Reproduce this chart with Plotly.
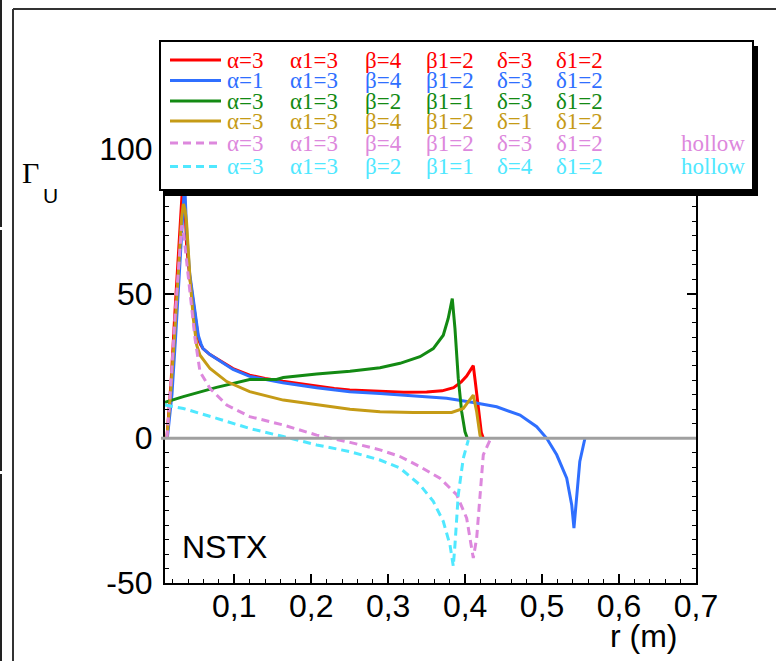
import plotly.graph_objects as go

# ---------------- data ----------------
red_x = [0.0125, 0.018, 0.023, 0.028, 0.033, 0.0345, 0.038, 0.042, 0.0468, 0.0505, 0.0533, 0.056, 0.0594,
         0.068, 0.0772, 0.0984, 0.12, 0.14, 0.163, 0.19, 0.207, 0.23, 0.25, 0.27, 0.29, 0.32, 0.35, 0.37,
         0.385, 0.395, 0.402, 0.407, 0.4106, 0.413, 0.417, 0.421, 0.4236]
red_y = [0, 20, 44, 68, 88, 90, 67, 56, 47, 40, 34.5, 32.5, 31,
         29, 27.6, 24.1, 21.8, 20.7, 19.7, 18.6, 17.9, 17.2, 16.7, 16.4, 16.2, 15.9, 16.0, 16.4,
         17.5, 19.5, 21.5, 23.5, 25.1, 20, 10, 2, 0]

blue_x = [0.013, 0.019, 0.024, 0.029, 0.0335, 0.0355, 0.0385, 0.042, 0.0468, 0.0505, 0.0533, 0.057, 0.0594,
          0.068, 0.0772, 0.0984, 0.12, 0.163, 0.207, 0.25, 0.2894, 0.3326, 0.376, 0.4106, 0.441, 0.4713,
          0.493, 0.506, 0.519, 0.532, 0.5385, 0.5414, 0.545, 0.549, 0.5557]
blue_y = [0, 15, 36, 60, 82, 88, 70, 57, 48, 41, 35.5, 32.5, 31,
          29, 27.4, 23.8, 21.4, 19.2, 17.5, 16.1, 15.5, 14.7, 13.8, 12.4, 10.9, 8.0,
          4.0, 0, -5.7, -13.8, -23, -31, -19.5, -8, 0]

green_x = [0.01, 0.0338, 0.077, 0.12, 0.155, 0.1637, 0.2071, 0.2504, 0.2894, 0.3154, 0.3413, 0.3586, 0.3716,
           0.378, 0.3833, 0.3868, 0.3911, 0.3955, 0.3998, 0.4028]
green_y = [12.4, 14.4, 17.6, 20.3, 20.3, 21.0, 22.2, 23.2, 24.4, 25.9, 28.2, 31, 35.6,
           41.4, 48.3, 37.9, 20.7, 9.2, 2.3, 0]

gold_x = [0.0125, 0.018, 0.023, 0.028, 0.0315, 0.0338, 0.036, 0.038, 0.0425, 0.0468, 0.0512, 0.0555, 0.0685,
          0.0902, 0.12, 0.1637, 0.2071, 0.2504, 0.2894, 0.3326, 0.3825, 0.3976, 0.4106, 0.415, 0.4193, 0.4206]
gold_y = [0, 18, 38, 62, 76, 81, 79, 74.7, 55.2, 41.4, 32.2, 28.7, 24.1,
          19.6, 16.1, 13.2, 11.5, 10, 9.2, 8.9, 8.9, 10.3, 14.9, 9.2, 1.1, 0]

pink_x = [0.0125, 0.018, 0.023, 0.028, 0.0317, 0.0345, 0.0382, 0.0447, 0.049, 0.0555, 0.0685, 0.0902, 0.12,
          0.1637, 0.2071, 0.2504, 0.2894, 0.3154, 0.3413, 0.3673, 0.389, 0.402, 0.4106, 0.415, 0.4193,
          0.4236, 0.4323, 0.434]
pink_y = [0, 20, 42, 62, 73.6, 70, 60.9, 43.7, 34.5, 23, 17.2, 11.5, 7.5,
          4.6, 1.1, -1.4, -4, -6.3, -9.8, -13.8, -19.5, -27.6, -41.4, -34.5, -19.5,
          -5.7, -0.6, 0]

cyan_x = [0.01, 0.0338, 0.0772, 0.12, 0.1637, 0.2071, 0.2504, 0.2894, 0.3154, 0.3413, 0.3586, 0.3716, 0.3803,
          0.3846, 0.3868, 0.3911, 0.3976, 0.4041]
cyan_y = [11.5, 10.3, 6.9, 3.4, 0.6, -2.3, -4.6, -7.5, -10.3, -16.1, -21.8, -28.7, -36.8,
          -44.2, -36.8, -19.5, -6.9, -0.6]

x_tickvals = [0.1, 0.2, 0.3, 0.4, 0.5, 0.6, 0.7]
x_ticktext = ["0,1", "0,2", "0,3", "0,4", "0,5", "0,6", "0,7"]
y_tickvals = [-50, 0, 50, 100]
y_ticktext = ["-50", "0", "50", "100"]

legend_rows = [
    ["α=3", "α1=3", "β=4", "β1=2", "δ=3", "δ1=2", ""],
    ["α=1", "α1=3", "β=4", "β1=2", "δ=3", "δ1=2", ""],
    ["α=3", "α1=3", "β=2", "β1=1", "δ=3", "δ1=2", ""],
    ["α=3", "α1=3", "β=4", "β1=2", "δ=1", "δ1=2", ""],
    ["α=3", "α1=3", "β=4", "β1=2", "δ=3", "δ1=2", "hollow"],
    ["α=3", "α1=3", "β=2", "β1=1", "δ=4", "δ1=2", "hollow"],
]

# ---------------- styles ----------------
colors = ["#ff0000", "#2f6fff", "#138a13", "#c59b16", "#dd88dd", "#50e8ff"]
dashes = ["solid", "solid", "solid", "solid", "8px,5px", "8px,5px"]
series = [(red_x, red_y), (blue_x, blue_y), (green_x, green_y),
          (gold_x, gold_y), (pink_x, pink_y), (cyan_x, cyan_y)]

W, H = 776, 661
PL, PR, PT, PB = 165, 696, 91, 583


def fx(px):
    return (px - PL) / (PR - PL)


def fy(py):
    return (PB - py) / (PB - PT)


SANS = "Liberation Sans, Arial, sans-serif"
SERIF = "Liberation Serif, Times New Roman, serif"

fig = go.Figure()
for (xs, ys), c, d in zip(series, colors, dashes):
    fig.add_trace(go.Scatter(x=xs, y=ys, mode="lines",
                             line=dict(color=c, width=3, dash=d),
                             showlegend=False, hoverinfo="skip"))

shapes = []
# zero reference line
shapes.append(dict(type="line", xref="paper", yref="y", x0=fx(161), x1=1, y0=0, y1=0,
                   line=dict(color="#a0a0a0", width=3), layer="above"))
# outer frames
shapes.append(dict(type="line", xref="paper", yref="paper", x0=fx(13), x1=fx(13), y0=fy(9), y1=fy(662),
                   line=dict(color="#333333", width=2), layer="above"))
shapes.append(dict(type="line", xref="paper", yref="paper", x0=fx(13), x1=fx(777), y0=fy(9), y1=fy(9),
                   line=dict(color="#333333", width=2), layer="above"))
for a, b in [(-1, 227), (230, 471), (474, 662)]:
    shapes.append(dict(type="line", xref="paper", yref="paper", x0=fx(1), x1=fx(1), y0=fy(a), y1=fy(b),
                       line=dict(color="#222222", width=2), layer="above"))
# legend box with shadow
shapes.append(dict(type="rect", xref="paper", yref="paper", x0=fx(165), x1=fx(758), y0=fy(196), y1=fy(46),
                   fillcolor="black", line=dict(width=0), layer="above"))
shapes.append(dict(type="rect", xref="paper", yref="paper", x0=fx(160), x1=fx(753), y0=fy(190), y1=fy(41),
                   fillcolor="white", line=dict(color="black", width=2), layer="above"))

row_y = [60, 80.5, 101, 121, 143, 166.5]
col_x = [225, 288, 363, 424, 495, 554]
annotations = []
for i, row in enumerate(legend_rows):
    yy = fy(row_y[i])
    shapes.append(dict(type="line", xref="paper", yref="paper", x0=fx(170), x1=fx(221), y0=yy, y1=yy,
                       line=dict(color=colors[i], width=3, dash=dashes[i]), layer="above"))
    for j, txt in enumerate(row[:6]):
        annotations.append(dict(x=fx(col_x[j]), y=yy, xref="paper", yref="paper", text=txt,
                                showarrow=False, xanchor="left", yanchor="middle",
                                font=dict(family=SERIF, size=23, color=colors[i])))
    if row[6]:
        annotations.append(dict(x=fx(747), y=yy, xref="paper", yref="paper", text=row[6],
                                showarrow=False, xanchor="right", yanchor="middle",
                                font=dict(family=SERIF, size=23, color=colors[i])))

annotations.append(dict(x=fx(20), y=fy(172), xref="paper", yref="paper", text="Γ", showarrow=False,
                        xanchor="left", yanchor="middle", font=dict(family=SERIF, size=30, color="black")))
annotations.append(dict(x=fx(41), y=fy(195), xref="paper", yref="paper", text="U", showarrow=False,
                        xanchor="left", yanchor="middle", font=dict(family=SANS, size=21, color="black")))
annotations.append(dict(x=fx(180), y=fy(547), xref="paper", yref="paper", text="NSTX", showarrow=False,
                        xanchor="left", yanchor="middle", font=dict(family=SANS, size=32, color="black")))
annotations.append(dict(x=fx(644), y=fy(636), xref="paper", yref="paper", text="r (m)", showarrow=False,
                        xanchor="center", yanchor="middle", font=dict(family=SANS, size=32, color="black")))

axis_common = dict(showline=True, linecolor="black", linewidth=2, mirror="ticks", ticks="inside",
                   tickcolor="black", tickwidth=1.5, ticklen=9, showgrid=False, zeroline=False,
                   tickfont=dict(family=SANS, size=32, color="black"))

fig.update_layout(
    width=W, height=H, autosize=False,
    margin=dict(l=PL, r=W - PR, t=PT, b=H - PB, pad=0),
    paper_bgcolor="white", plot_bgcolor="white",
    xaxis=dict(range=[0.01, 0.7], tickmode="array", tickvals=x_tickvals, ticktext=x_ticktext,
               ticklabelstandoff=-6,
               minor=dict(dtick=0.02, tick0=0, ticks="inside", ticklen=4, tickcolor="black", tickwidth=1),
               **axis_common),
    yaxis=dict(range=[-50, 120], tickmode="array", tickvals=y_tickvals, ticktext=y_ticktext,
               ticklabelstandoff=4,
               minor=dict(dtick=5, tick0=0, ticks="inside", ticklen=4, tickcolor="black", tickwidth=1),
               **axis_common),
    shapes=shapes, annotations=annotations,
)

fig.write_html("out.html")
